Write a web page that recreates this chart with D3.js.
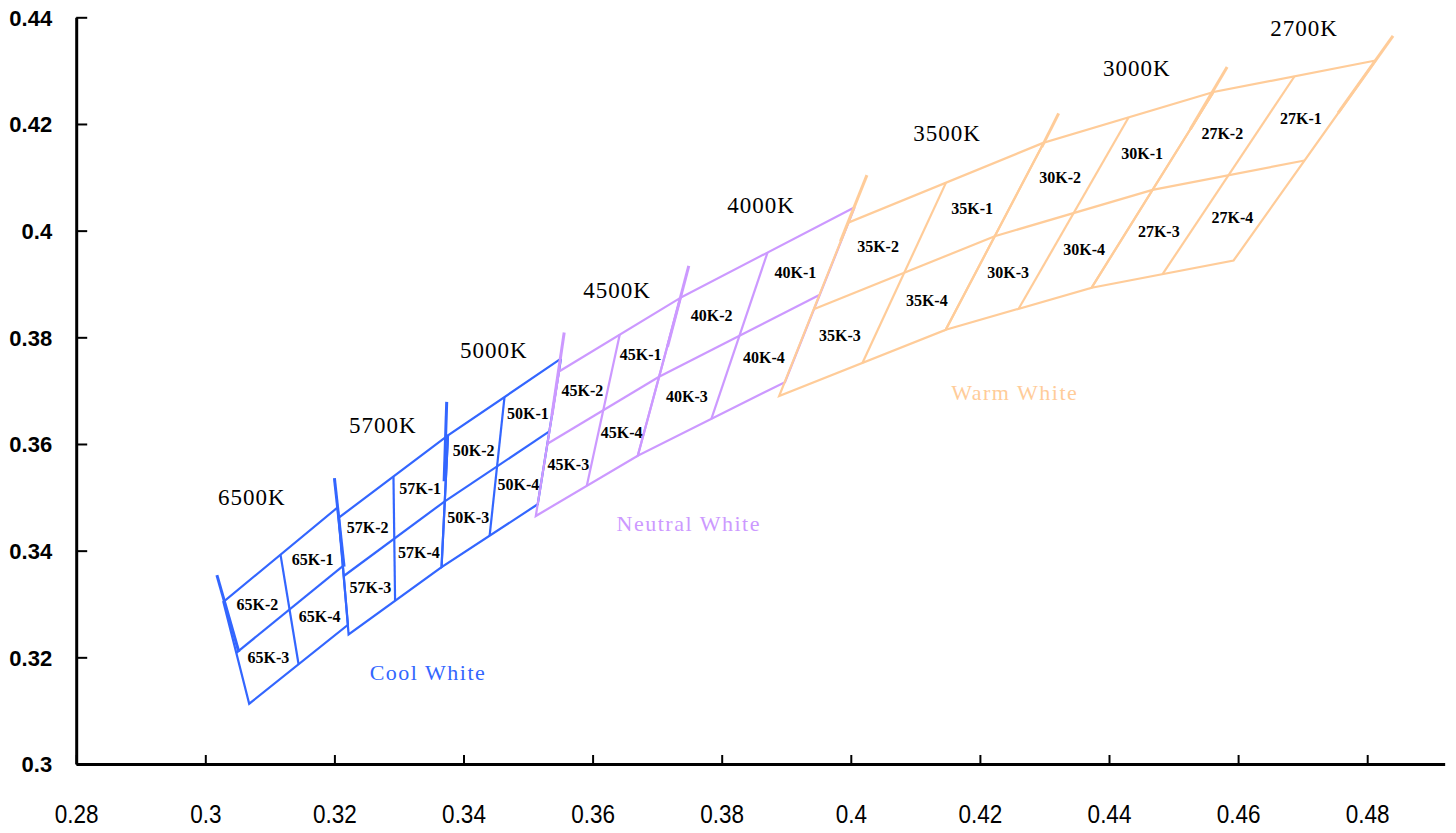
<!DOCTYPE html>
<html>
<head>
<meta charset="utf-8">
<script src="https://cdn.jsdelivr.net/npm/d3@7"></script>
<style>
  body { margin: 0; background: #fff; }
  svg { display: block; }
</style>
</head>
<body>
<svg id="chart" width="1456" height="833"></svg>
<script>
// ANSI C78.377 chromaticity quadrangles (CIE 1931 x, y)
const cctNames    = ["6500K", "5700K", "5000K", "4500K", "4000K", "3500K", "3000K", "2700K"];
const binPrefixes = ["65K", "57K", "50K", "45K", "40K", "35K", "30K", "27K"];
const cctGroup    = [0, 0, 0, 1, 1, 2, 2, 2];
const groupNames  = ["Cool White", "Neutral White", "Warm White"];

// corners in order: upper-right, upper-left, lower-left, lower-right
const quadX = [
  [0.3205, 0.3028, 0.3068, 0.3221],
  [0.3376, 0.3207, 0.3222, 0.3366],
  [0.3551, 0.3376, 0.3366, 0.3515],
  [0.3736, 0.3548, 0.3512, 0.3670],
  [0.4006, 0.3736, 0.3670, 0.3898],
  [0.4299, 0.3996, 0.3889, 0.4147],
  [0.4562, 0.4299, 0.4147, 0.4373],
  [0.4813, 0.4562, 0.4373, 0.4593]
];
const quadY = [
  [0.3481, 0.3304, 0.3113, 0.3261],
  [0.3616, 0.3462, 0.3243, 0.3369],
  [0.3760, 0.3616, 0.3369, 0.3487],
  [0.3874, 0.3736, 0.3465, 0.3578],
  [0.4044, 0.3874, 0.3578, 0.3716],
  [0.4165, 0.4015, 0.3690, 0.3814],
  [0.4260, 0.4165, 0.3814, 0.3893],
  [0.4319, 0.4260, 0.3893, 0.3944]
];

// isotherm line segments running past the quadrangle edges
const isoGroup = [0, 0, 0, 1, 1, 2, 2, 2, 2];
const isoX1 = [0.3018, 0.3200, 0.3374, 0.3556, 0.3749, 0.4025, 0.4322, 0.4583, 0.4840];
const isoY1 = [0.3354, 0.3536, 0.3679, 0.3809, 0.3934, 0.4104, 0.4220, 0.4307, 0.4365];
const isoX2 = [0.3052, 0.3215, 0.3370, 0.3537, 0.3716, 0.3984, 0.4296, 0.4526, 0.4755];
const isoY2 = [0.3210, 0.3370, 0.3530, 0.3654, 0.3782, 0.3980, 0.4157, 0.4190, 0.4221];

// annotation anchors (chromaticity coordinates)
const cctLabelX = [0.3072, 0.3275, 0.3447, 0.3638, 0.3861, 0.4149, 0.4443, 0.4702];
const cctLabelY = [0.3500, 0.3635, 0.3776, 0.3888, 0.4048, 0.4183, 0.4305, 0.4380];
const groupLabelX = [0.3345, 0.3749, 0.4254];
const groupLabelY = [0.3172, 0.3452, 0.3697];

const xTicks = [0.28, 0.30, 0.32, 0.34, 0.36, 0.38, 0.40, 0.42, 0.44, 0.46, 0.48];
const xTickLabels = ["0.28", "0.3", "0.32", "0.34", "0.36", "0.38", "0.4", "0.42", "0.44", "0.46", "0.48"];
const yTicks = [0.30, 0.32, 0.34, 0.36, 0.38, 0.40, 0.42, 0.44];
const yTickLabels = ["0.3", "0.32", "0.34", "0.36", "0.38", "0.4", "0.42", "0.44"];

const xMin = 0.28, xMax = 0.492, yMin = 0.30, yMax = 0.44;

const groupColors = ["#3366FF", "#CC99FF", "#FFCC99"];
const groupTextColors = ["#3366FF", "#CC99FF", "#FFCC99"];

const svg = d3.select("#chart");
const x = d3.scaleLinear().domain([xMin, xMax]).range([76.2, 76.2 + (xMax - xMin) / 0.02 * 129.1]);
const y = d3.scaleLinear().domain([yMin, yMax]).range([764, 17.3]);

const line = d3.line().x(d => x(d[0])).y(d => y(d[1]));
const mid = (a, b) => [(a[0] + b[0]) / 2, (a[1] + b[1]) / 2];

// geometry of each quadrangle and its four sub-bins
const quads = cctNames.map((name, i) => {
  const c = quadX[i].map((vx, k) => [vx, quadY[i][k]]);
  const [ur, ul, ll, lr] = c;
  const top = mid(ur, ul), bottom = mid(ll, lr), left = mid(ul, ll), right = mid(ur, lr);
  const center = mid(top, bottom);
  const subs = [
    [top, ur, right, center],
    [ul, top, center, left],
    [left, center, bottom, ll],
    [center, right, lr, bottom]
  ];
  return { name, i, g: cctGroup[i], corners: c, top, bottom, left, right, subs };
});

const plot = svg.append("g");

[0, 1, 2].forEach(g => {
  const layer = plot.append("g")
    .attr("fill", "none")
    .attr("stroke", groupColors[g])
    .attr("stroke-linejoin", "miter");

  quads.filter(q => q.g === g).forEach(q => {
    layer.append("path")
      .attr("d", line(q.corners.concat([q.corners[0]])))
      .attr("stroke-width", 2.2);
    layer.append("path").attr("d", line([q.top, q.bottom])).attr("stroke-width", 2.2);
    layer.append("path").attr("d", line([q.left, q.right])).attr("stroke-width", 2.2);
  });

  isoGroup.forEach((ig, k) => {
    if (ig !== g) return;
    layer.append("path")
      .attr("d", line([[isoX1[k], isoY1[k]], [isoX2[k], isoY2[k]]]))
      .attr("stroke-width", 3);
  });
});

// bin labels
const labels = svg.append("g")
  .attr("font-family", "'Liberation Serif', 'Times New Roman', serif")
  .attr("font-weight", "bold")
  .attr("font-size", 16)
  .attr("fill", "#000")
  .attr("text-anchor", "middle");

quads.forEach(q => {
  q.subs.forEach((s, k) => {
    const cx = d3.mean(s, p => p[0]);
    const cy = d3.mean(s, p => p[1]);
    labels.append("text")
      .attr("x", x(cx))
      .attr("y", y(cy))
      .attr("dy", "0.35em")
      .text(binPrefixes[q.i] + "-" + (k + 1));
  });
});

// CCT labels
svg.append("g")
  .attr("font-family", "'Liberation Serif', 'Times New Roman', serif")
  .attr("font-size", 23)
  .attr("letter-spacing", 1)
  .attr("fill", "#000")
  .attr("text-anchor", "middle")
  .selectAll("text")
  .data(cctNames)
  .join("text")
  .attr("x", (d, i) => x(cctLabelX[i]))
  .attr("y", (d, i) => y(cctLabelY[i]))
  .attr("dy", "0.35em")
  .text(d => d);

// group labels
svg.append("g")
  .attr("font-family", "'Liberation Serif', 'Times New Roman', serif")
  .attr("font-size", 22)
  .attr("letter-spacing", 1.5)
  .attr("text-anchor", "middle")
  .selectAll("text")
  .data(groupNames)
  .join("text")
  .attr("x", (d, i) => x(groupLabelX[i]))
  .attr("y", (d, i) => y(groupLabelY[i]))
  .attr("dy", "0.35em")
  .attr("fill", (d, i) => groupTextColors[i])
  .text(d => d);

// axes
const xAxis = d3.axisBottom(x)
  .tickValues(xTicks)
  .tickFormat((d, i) => xTickLabels[i])
  .tickSizeInner(-9)
  .tickSizeOuter(0);
const gx = svg.append("g").attr("transform", `translate(0,${y(yMin)})`).call(xAxis);
gx.select(".domain").attr("stroke-width", 3).attr("stroke", "#000");
gx.selectAll(".tick line").attr("stroke-width", 2).attr("stroke", "#000");
gx.selectAll(".tick text")
  .attr("font-family", "'Liberation Sans', Arial, sans-serif")
  .attr("font-size", 25)
  .attr("fill", "#000")
  .attr("y", 59)
  .attr("dy", 0)
  .attr("transform", "scale(0.9,1)");

const yAxis = d3.axisLeft(y)
  .tickValues(yTicks)
  .tickFormat((d, i) => yTickLabels[i])
  .tickSizeInner(-11)
  .tickSizeOuter(0);
const gy = svg.append("g").attr("transform", `translate(${x(xMin)},0)`).call(yAxis);
gy.select(".domain").attr("stroke-width", 3).attr("stroke", "#000");
gy.selectAll(".tick line").attr("stroke-width", 2).attr("stroke", "#000");
gy.selectAll(".tick text")
  .attr("font-family", "'Liberation Sans', Arial, sans-serif")
  .attr("font-weight", "bold")
  .attr("font-size", 22)
  .attr("fill", "#000")
  .attr("x", -24)
  .attr("dy", "0.35em");
</script>
</body>
</html>
